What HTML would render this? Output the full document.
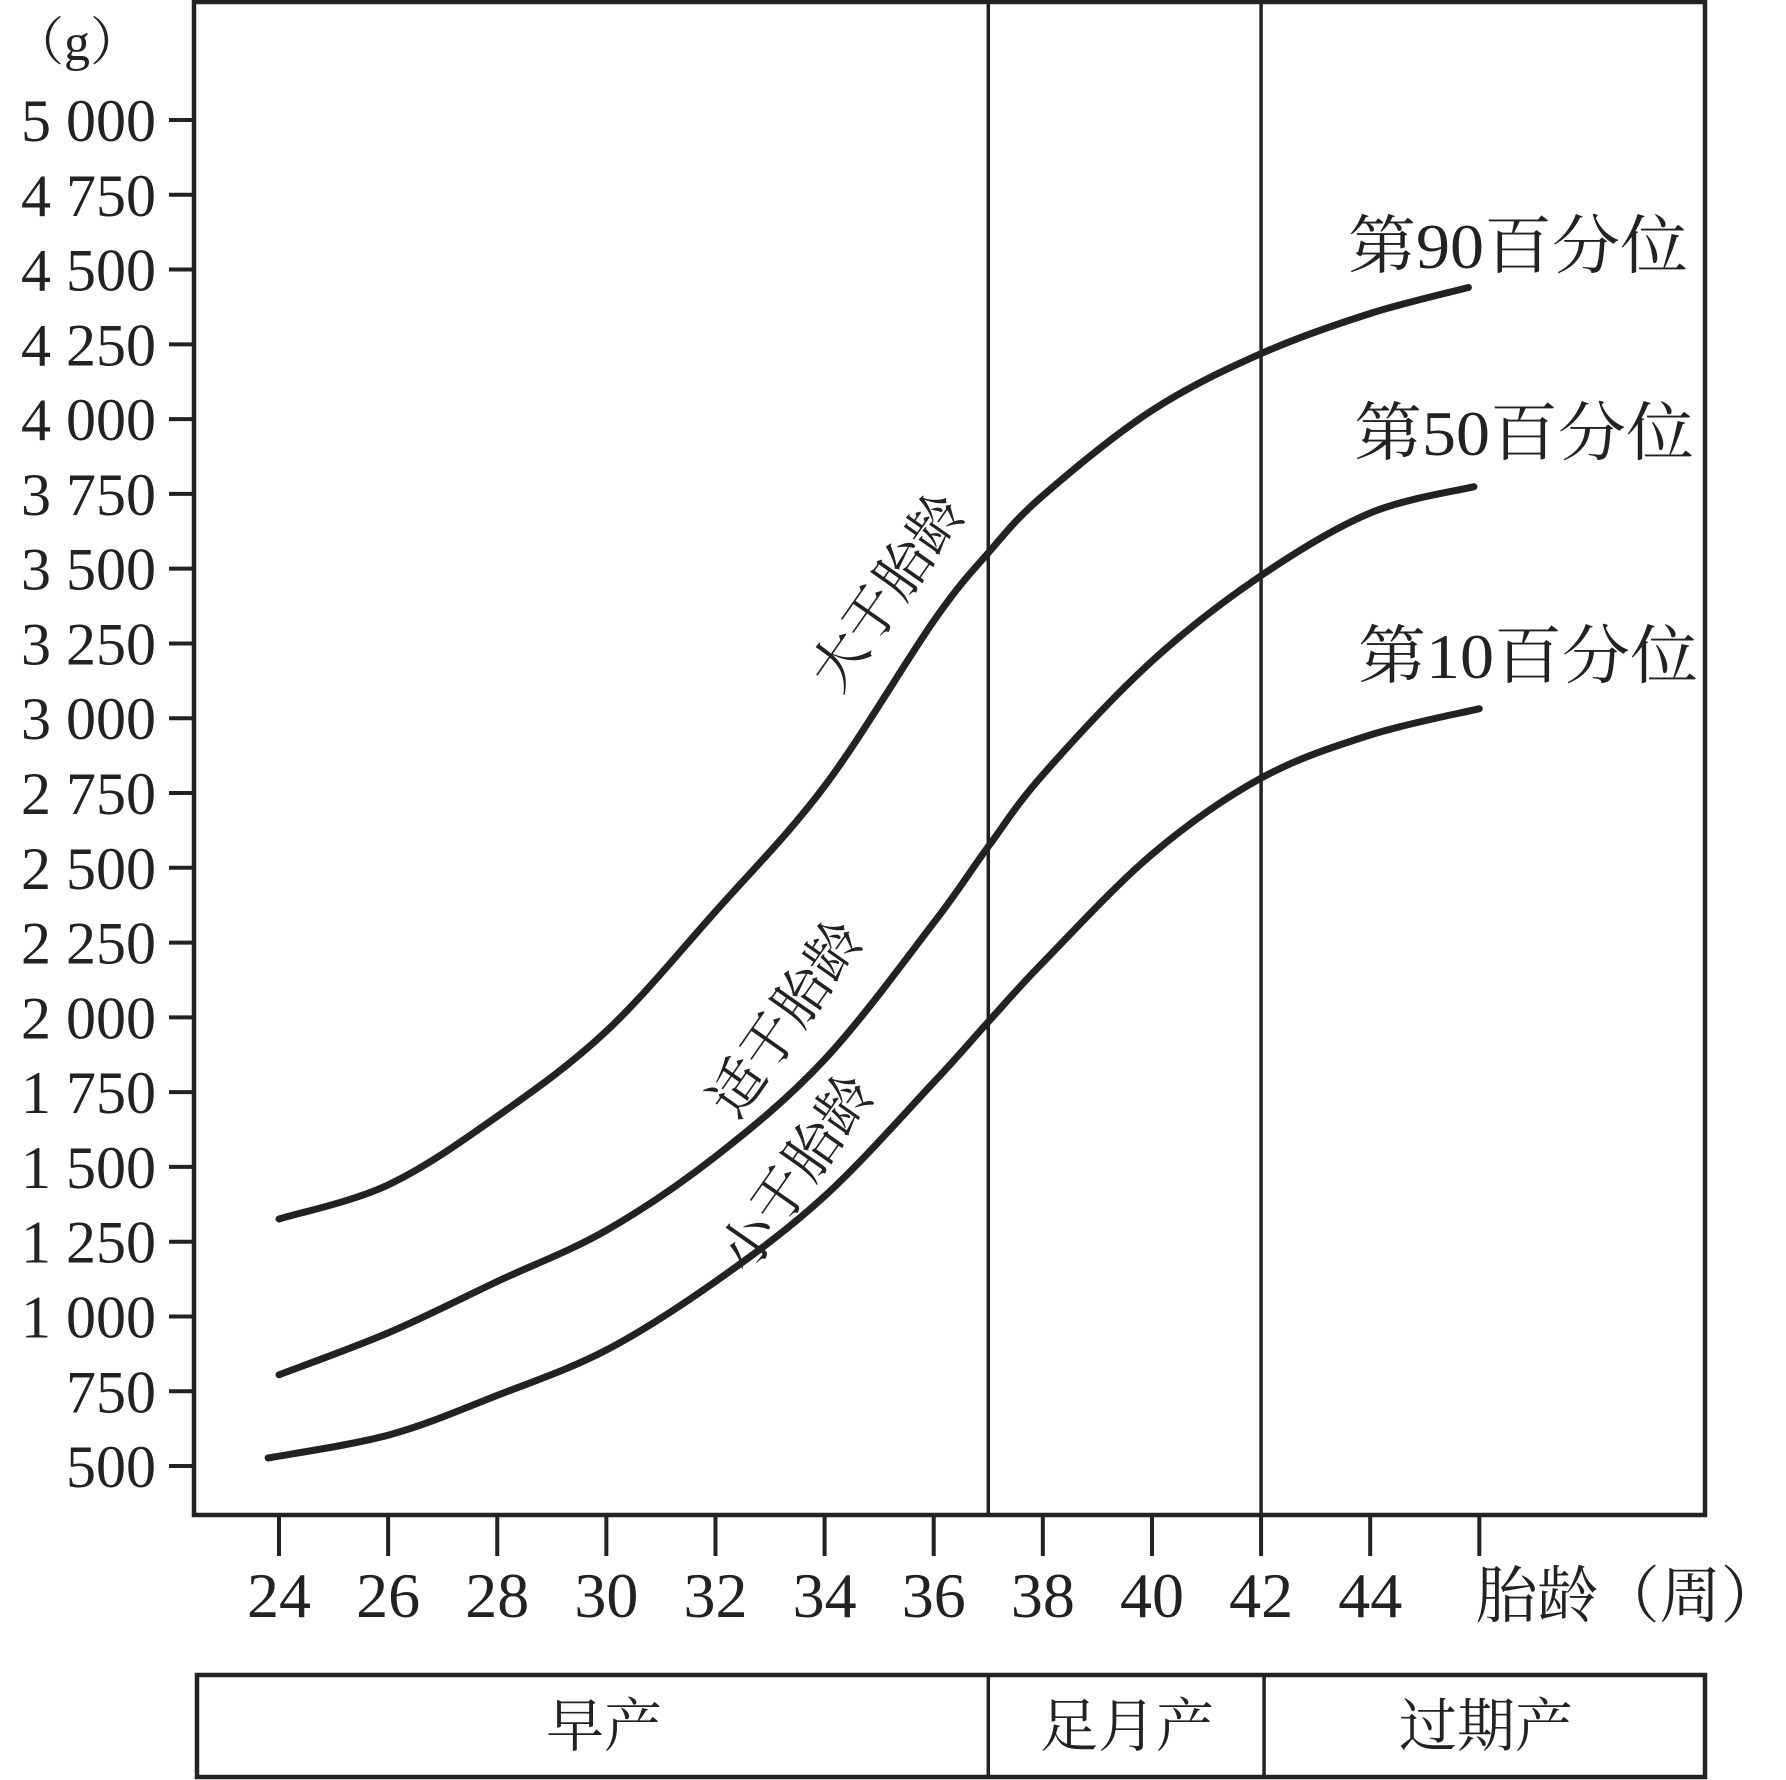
<!DOCTYPE html>
<html><head><meta charset="utf-8"><style>
html,body{margin:0;padding:0;background:#fff;}
svg{display:block;}
text{fill:#222;font-family:"Liberation Serif","Noto Serif CJK SC",serif;}
</style></head><body>
<svg id="chart" width="1786" height="1780" viewBox="0 0 1786 1780" xmlns="http://www.w3.org/2000/svg">
<g id="frame"></g>
<g id="curves"></g>
<g id="labels"></g>
</svg>
<script>
const yTicks = [500,750,1000,1250,1500,1750,2000,2250,2500,2750,3000,3250,3500,3750,4000,4250,4500,4750,5000];
const yTickLabels = ["500","750","1 000","1 250","1 500","1 750","2 000","2 250","2 500","2 750","3 000","3 250","3 500","3 750","4 000","4 250","4 500","4 750","5 000"];
const xTicks = [24,26,28,30,32,34,36,38,40,42,44,46];
const xTickLabels = ["24","26","28","30","32","34","36","38","40","42","44",""];
const weeks90 = [24,26,28,30,32,34,36,37,38,40,42,44,45.8];
const p90 = [1326,1440,1669,1954,2354,2773,3325,3553,3744,4029,4219,4353,4440];
const weeks50 = [24,26,28,30,32,34,36,37,38,40,42,44,45.9];
const p50 = [805,945,1117,1288,1535,1859,2316,2571,2811,3191,3477,3686,3774];
const weeks10 = [23.8,26,28,30,32,34,36,37,38,40,42,44,46];
const p10 = [527,603,736,888,1117,1402,1783,1985,2183,2545,2800,2944,3032];
const periodBounds = [37,42];
const periodNames = ["早产","足月产","过期产"];
const percentileNames = ["第90百分位","第50百分位","第10百分位"];
const regionNames = ["大于胎龄","适于胎龄","小于胎龄"];

const NS="http://www.w3.org/2000/svg";
const X0=194, X1=1705, Y0=2, Y1=1515;
function xs(w){return 279+(w-24)*54.56;}
function ys(v){return 120+(5000-v)/250*74.78;}
function mk(tag,attrs,parent){const e=document.createElementNS(NS,tag);for(const k in attrs)e.setAttribute(k,attrs[k]);parent.appendChild(e);return e;}
const frame=document.getElementById('frame'), curves=document.getElementById('curves'), labels=document.getElementById('labels');

let box=mk('rect',{x:X0,y:Y0,width:X1-X0,height:Y1-Y0,fill:'none',stroke:'#222','stroke-width':4.5},frame);



periodBounds.forEach((w,i)=>{
  const l=mk('line',{x1:xs(w),x2:xs(w),y1:Y0,y2:Y1,stroke:'#222','stroke-width':3.5},frame);
  
  
});

yTicks.forEach((v,i)=>{
  const t=mk('line',{x1:169,x2:X0,y1:ys(v),y2:ys(v),stroke:'#222','stroke-width':4},frame);
  
  
  const tx=mk('text',{x:156,y:ys(v)+21,'text-anchor':'end','font-size':60},labels);
  tx.textContent=yTickLabels[i];
  
  
});
let yt=mk('text',{x:12,y:60,'font-size':52},labels);
yt.textContent='（g）';



xTicks.forEach((w,i)=>{
  const t=mk('line',{x1:xs(w),x2:xs(w),y1:Y1,y2:1556,stroke:'#222','stroke-width':4},frame);
  
  
  if(xTickLabels[i]){
    const tx=mk('text',{x:xs(w),y:1617,'text-anchor':'middle','font-size':64},labels);
    tx.textContent=xTickLabels[i];
    
    
  }
});
let xt=mk('text',{x:1476,y:1617,'font-size':62,textLength:306,lengthAdjust:'spacingAndGlyphs'},labels);
xt.textContent='胎龄（周）';



// period bar
let pb=mk('rect',{x:197,y:1675,width:1508,height:102,fill:'none',stroke:'#222','stroke-width':4.5},frame);


const pEdges=[24-(xs(24)-197)/54.56, ...periodBounds, 24+(1705-279)/54.56];
periodBounds.forEach(w=>{
  const l=mk('line',{x1:xs(w)+(w===42?3:0),x2:xs(w)+(w===42?3:0),y1:1675,y2:1777,stroke:'#222','stroke-width':3.5},frame);
  
  
});
periodNames.forEach((n,i)=>{
  const cx=[604,1127,1486][i];
  const t=mk('text',{x:cx,y:1746,'text-anchor':'middle','font-size':58},labels);
  t.textContent=n;
  
  
});

function smooth(pts){
  let d='M'+pts[0][0].toFixed(1)+','+pts[0][1].toFixed(1);
  for(let i=0;i<pts.length-1;i++){
    const p0=pts[Math.max(0,i-1)],p1=pts[i],p2=pts[i+1],p3=pts[Math.min(pts.length-1,i+2)];
    const c1=[p1[0]+(p2[0]-p0[0])/6,p1[1]+(p2[1]-p0[1])/6];
    const c2=[p2[0]-(p3[0]-p1[0])/6,p2[1]-(p3[1]-p1[1])/6];
    d+=' C'+c1.map(v=>v.toFixed(1)).join(',')+' '+c2.map(v=>v.toFixed(1)).join(',')+' '+p2[0].toFixed(1)+','+p2[1].toFixed(1);
  }
  return d;
}
[[weeks90,p90,'p90-curve'],[weeks50,p50,'p50-curve'],[weeks10,p10,'p10-curve']].forEach(([w,v,n])=>{
  const pts=w.map((x,i)=>[xs(x),ys(v[i])]);
  const p=mk('path',{d:smooth(pts),fill:'none',stroke:'#222','stroke-width':7,'stroke-linecap':'round'},curves);
  
  
});

const pl=[[1348,268],[1354,455],[1358,678]];
percentileNames.forEach((n,i)=>{
  const t=mk('text',{x:pl[i][0],y:pl[i][1],'font-size':64,textLength:340,lengthAdjust:'spacingAndGlyphs'},labels);
  t.textContent=n;
  
  
});
const rl=[[888,592],[786,1019],[797,1173]];
regionNames.forEach((n,i)=>{
  const t=mk('text',{x:0,y:19,'text-anchor':'middle','font-size':56,transform:'translate('+rl[i][0]+','+rl[i][1]+') rotate(-55)'},labels);
  t.textContent=n;
  
  
});
</script>
</body></html>
